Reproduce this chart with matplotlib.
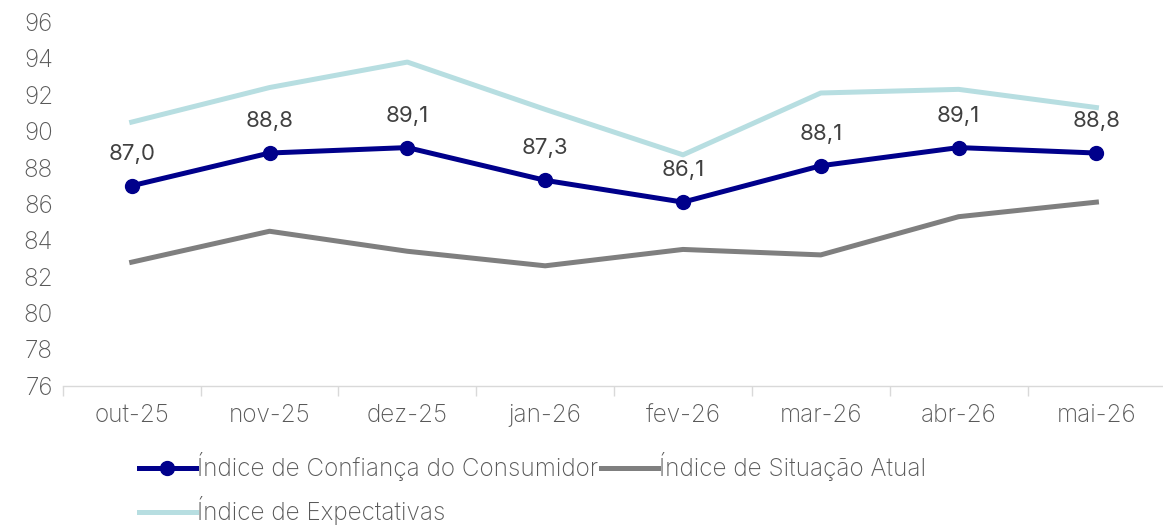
import matplotlib
matplotlib.use('Agg')
import matplotlib.pyplot as plt
import numpy as np

plt.rcParams['font.family'] = ['Inter', 'DejaVu Sans']

meses = ['out-25', 'nov-25', 'dez-25', 'jan-26', 'fev-26', 'mar-26', 'abr-26', 'mai-26']
icc = [87.0, 88.8, 89.1, 87.3, 86.1, 88.1, 89.1, 88.8]
isa = [82.8, 84.5, 83.4, 82.6, 83.5, 83.2, 85.3, 86.1]
iex = [90.5, 92.4, 93.8, 91.2, 88.7, 92.1, 92.3, 91.3]
yticks = [76, 78, 80, 82, 84, 86, 88, 90, 92, 94, 96]

fig = plt.figure(figsize=(11.63, 5.25), dpi=100)
ax = fig.add_axes([0.054, 0.265, 0.948, 0.693])
x = np.arange(len(meses))

l1, = ax.plot(x, icc, color='#00008B', linewidth=3.6, marker='o', markersize=10,
              label='Índice de Confiança do Consumidor', zorder=4)
l2, = ax.plot(x, isa, color='#7F7F7F', linewidth=3.6, label='Índice de Situação Atual', zorder=3)
l3, = ax.plot(x, iex, color='#B7DEE1', linewidth=3.6, label='Índice de Expectativas', zorder=2)

for xi, v in zip(x, icc):
    ax.annotate(f'{v:.1f}'.replace('.', ','), (xi, v), xytext=(0, 23), textcoords='offset points',
                ha='center', va='center', fontsize=16, color='#404040')

ax.set_xlim(-0.5, len(meses) - 0.5)
ax.set_ylim(76, 96)
ax.set_yticks(yticks)
ax.set_xticks(x)
ax.set_xticklabels(meses)
ax.set_xticks(np.arange(-0.5, len(meses)), minor=True)
ax.tick_params(axis='x', which='major', length=0, pad=13, labelsize=17.5, labelcolor='#595959')
ax.tick_params(axis='x', which='minor', length=7, color='#D9D9D9', width=1)
ax.tick_params(axis='y', length=0, pad=7, labelsize=17.5, labelcolor='#595959')
for lab in ax.get_xticklabels() + ax.get_yticklabels():
    lab.set_fontweight('light')

for s in ['top', 'right', 'left']:
    ax.spines[s].set_visible(False)
ax.spines['bottom'].set_color('#D9D9D9')
ax.spines['bottom'].set_linewidth(1)

leg = ax.legend([l1, l3, l2], [l1.get_label(), l3.get_label(), l2.get_label()],
                loc='upper left', bbox_to_anchor=(0.06, -0.156), ncol=2, frameon=False,
                prop={'size': 17.5, 'weight': 'light'}, handlelength=2.35, handletextpad=0.05,
                columnspacing=0.1, labelcolor='#595959', borderaxespad=0, labelspacing=0.62)

fig.savefig('out.png', dpi=100)
